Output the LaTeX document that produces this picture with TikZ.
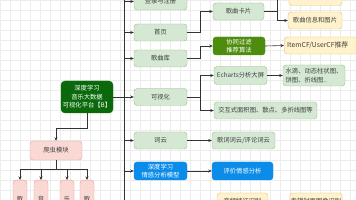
\documentclass[tikz,border=0pt]{standalone}
\usepackage{fontspec}
\newfontfamily\cjk{Noto Sans CJK SC}
\definecolor{mmgrid}{RGB}{236,236,236}
\definecolor{mmline}{RGB}{51,51,51}
\definecolor{mmgreenfill}{RGB}{213,232,212}
\definecolor{mmgreenedge}{RGB}{150,190,130}
\definecolor{mmroot}{RGB}{10,105,10}
\definecolor{mmleaf}{RGB}{78,140,14}
\definecolor{mmblue}{RGB}{12,140,233}
\definecolor{mmyellow}{RGB}{255,242,204}
\definecolor{mmyellowedge}{RGB}{222,196,120}
\definecolor{mmpink}{RGB}{250,217,213}
\definecolor{mmpinkedge}{RGB}{226,160,150}
\usetikzlibrary{arrows.meta,positioning,calc}

\begin{document}
\begin{tikzpicture}[x=1pt,y=-1pt,
  box/.style={draw=mmgreenedge,fill=mmgreenfill,rounded corners=3pt,minimum height=17pt,inner sep=1pt,
    align=center,text=black!75,font=\cjk\fontsize{6.3}{8.5}\selectfont},
  topic/.style={box,minimum width=53pt},
  solid/.style={box,draw=#1,fill=#1,text=white},
  note/.style={box,draw=mmyellowedge,fill=mmyellow},
  spider/.style={box,draw=mmpinkedge,fill=mmpink,minimum width=14pt,minimum height=64pt,anchor=north},
  link/.style={draw=mmline,line width=0.6pt,-{Stealth[length=3.5pt,width=3pt]}}]
  \useasboundingbox (0,0) rectangle (356,200);
  \clip (0,0) rectangle (356,200);
  % Background grid
  \foreach \gx in {0,10,...,350} \draw[mmgrid,line width=0.4pt] (\gx,0) -- (\gx,200);
  \foreach \gy in {0,10,...,200} \draw[mmgrid,line width=0.4pt] (0,\gy) -- (356,\gy);
  % Root
  \node[solid=mmroot,minimum width=52pt,minimum height=32pt,rounded corners=4pt] (root) at (87,97)
    {深度学习\\音乐大数据\\可视化平台【B】};
  % First level topics
  \node[topic] (login) at (160.5,1.5) {登录与注册};
  \node[topic] (home) at (160.5,32.5) {首页};
  \node[topic] (lib) at (160.5,58.5) {歌曲库};
  \node[topic] (vis) at (160.5,97) {可视化};
  \node[topic] (cloud) at (160.5,140.5) {词云};
  \node[solid=mmblue,minimum width=53pt,minimum height=18pt] (model) at (160.5,171) {深度学习\\情感分析模型};
  % Second level
  \node[box,minimum width=51pt] (card) at (238.5,11.5) {歌曲卡片};
  \node[solid=mmleaf,minimum width=52pt,minimum height=18pt] (cf) at (239,46) {协同过滤\\推荐算法};
  \node[box,minimum width=53pt,minimum height=18pt] (echarts) at (240.5,75.5) {Echarts分析大屏};
  \node[box,minimum width=103pt] (inter) at (265.5,110.5) {交互式面积图、散点、多折线图等};
  \node[box,minimum width=63pt] (lyric) at (243.5,140.5) {歌词词云/评论词云};
  \node[solid=mmblue,minimum width=61pt,minimum height=18pt] (emo) at (242.5,171) {评价情感分析};
  \node[note,minimum width=51pt] (feat) at (242.5,201.5) {音频特征识别};
  % Third level
  \node[note,minimum width=53pt] (name) at (315.5,-3) {歌曲名与歌手};
  \node[note,minimum width=54pt] (info) at (315,20.5) {歌曲信息和图片};
  \node[note,minimum width=76pt,anchor=west,align=left,text width=70pt,font=\cjk\fontsize{6.8}{8.5}\selectfont] (item) at (284,45.5) {ItemCF/UserCF推荐};
  \node[box,minimum width=62pt,minimum height=21pt,align=left] (water) at (314,75.5) {水滴、动态柱状图、\\饼图、折线图..};
  \node[note,minimum width=52pt] (cover) at (316,201.5) {专辑封面图像识别};
  % Crawler
  \node[box,draw=mmpinkedge,fill=mmpink,minimum width=52pt,minimum height=19pt] (crawl) at (56,150.5) {爬虫模块};
  \node[spider] (s1) at (20,180) {歌\\曲\\数\\据};
  \node[spider] (s2) at (41,180) {音\\乐\\评\\论};
  \node[spider] (s3) at (67,180) {乐\\评\\文\\本};
  \node[spider] (s4) at (87,180) {歌\\词\\数\\据};
  % Trunk and branches
  \coordinate (trunk) at (124,-20);
  \draw[mmline,line width=0.6pt] (trunk) -- (124,210);
  \foreach \t in {login,home,lib,cloud,model} \draw[link] (\t.west -| trunk) -- (\t.west);
  \draw[link] (root.east) -- (vis.west);
  \draw[link] (home.east) -- ++(13,0) |- (card.west);
  \draw[link] (card.east) -- ++(13,0) |- (info.west);
  \draw[link] (card.east) -- ++(13,0) |- (name.west);
  \draw[link] (lib.east) -- ++(13,0) |- (cf.west);
  \draw[link] (cf.east) -- (item.west);
  \draw[link] (vis.east) -- ++(13,0) |- (echarts.west);
  \draw[link] (vis.east) -- ++(13,0) |- (inter.west);
  \draw[link] (echarts.east) -- (water.west);
  \draw[link] (cloud.east) -- (lyric.west);
  \draw[link] (model.east) -- (emo.west);
  \coordinate (low) at (205,215);
  \draw[link] (low) |- (feat.west);
  \draw[link] (feat.east) -- (cover.west);
  % Crawler links
  \coordinate (split) at (87,128);
  \draw[link] (root.south) -- (split) -| (crawl.north);
  \coordinate (bar) at (56,169);
  \draw[mmline,line width=0.6pt] (crawl.south) -- (bar);
  \foreach \s in {s1,s2,s3,s4} \draw[link] (bar) -| (\s.north);
\end{tikzpicture}
\end{document}
